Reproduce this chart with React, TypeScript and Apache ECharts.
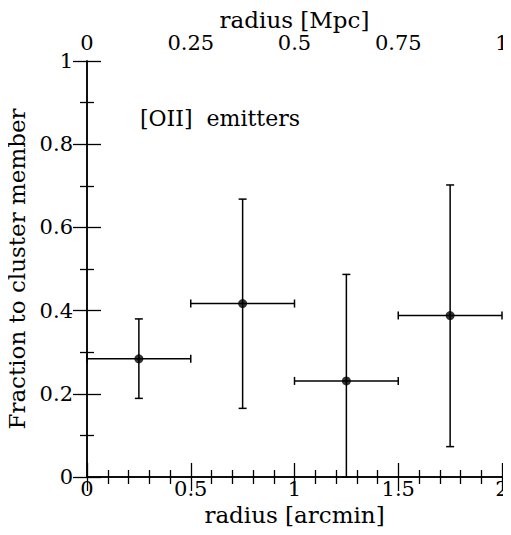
import React, { useEffect, useRef } from "react";
import * as echarts from "echarts";

const radiusArcmin = [0.25, 0.75, 1.25, 1.75];
const radiusLow = [0.0, 0.5, 1.0, 1.5];
const radiusHigh = [0.5, 1.0, 1.5, 2.0];
const fraction = [0.284, 0.417, 0.231, 0.388];
const fractionLow = [0.189, 0.165, 0.0, 0.073];
const fractionHigh = [0.38, 0.668, 0.487, 0.702];
const annotation = "[OII]  emitters";

const FONT = "DejaVu Serif";

export default function App() {
  const ref = useRef<HTMLDivElement>(null);
  useEffect(() => {
    if (!ref.current) return;
    const chart = echarts.init(ref.current, null, { renderer: "svg" });
    const errData = radiusArcmin.map((x, i) => [
      x,
      fraction[i],
      radiusLow[i],
      radiusHigh[i],
      fractionLow[i],
      fractionHigh[i],
    ]);
    const axisLine = { show: true, lineStyle: { color: "#000", width: 1.5 } };
    const tickStyle = { color: "#000", width: 1.3 };
    const labelStyle = { color: "#000", fontFamily: FONT, fontSize: 21 };
    const nameStyle = { color: "#000", fontFamily: FONT, fontSize: 23 };
    chart.setOption({
      animation: false,
      backgroundColor: "#fff",
      grid: {
        left: 87,
        right: 9,
        top: 61,
        bottom: 58,
        containLabel: false,
        outerBoundsMode: "none",
      },
      xAxis: [
        {
          type: "value",
          position: "bottom",
          min: 0,
          max: 2,
          interval: 0.5,
          name: "radius [arcmin]",
          nameLocation: "middle",
          nameGap: 26,
          nameMoveOverlap: false,
          nameTextStyle: nameStyle,
          axisLine,
          axisTick: { show: true, inside: true, length: 14, lineStyle: tickStyle },
          minorTick: { show: true, splitNumber: 5, length: 7, lineStyle: tickStyle },
          axisLabel: { ...labelStyle, margin: 1 },
          splitLine: { show: false },
        },
        {
          type: "value",
          position: "top",
          min: 0,
          max: 1,
          interval: 0.25,
          name: "radius [Mpc]",
          nameLocation: "middle",
          nameGap: 30,
          nameMoveOverlap: false,
          nameTextStyle: nameStyle,
          axisLine,
          axisTick: { show: true, inside: true, length: 14, lineStyle: tickStyle },
          minorTick: { show: true, splitNumber: 5, length: 7, lineStyle: tickStyle },
          axisLabel: { ...labelStyle, margin: 8 },
          splitLine: { show: false },
        },
      ],
      yAxis: [
        {
          type: "value",
          position: "left",
          min: 0,
          max: 1,
          interval: 0.2,
          name: "Fraction to cluster member",
          nameLocation: "middle",
          nameGap: 59,
          nameMoveOverlap: false,
          nameTextStyle: nameStyle,
          axisLine,
          axisTick: { show: true, inside: true, length: 14, lineStyle: tickStyle },
          minorTick: { show: true, splitNumber: 2, length: 7, lineStyle: tickStyle },
          axisLabel: { ...labelStyle, margin: 14 },
          splitLine: { show: false },
        },
        {
          type: "value",
          position: "right",
          min: 0,
          max: 1,
          interval: 0.2,
          axisLine,
          axisTick: { show: true, inside: true, length: 14, lineStyle: tickStyle },
          minorTick: { show: true, splitNumber: 2, length: 7, lineStyle: tickStyle },
          axisLabel: { show: false },
          splitLine: { show: false },
        },
      ],
      series: [
        {
          type: "custom",
          xAxisIndex: 0,
          yAxisIndex: 0,
          data: errData,
          clip: false,
          renderItem: (params: any, api: any) => {
            const x = api.value(0);
            const y = api.value(1);
            const c = api.coord([x, y]);
            const l = api.coord([api.value(2), y]);
            const r = api.coord([api.value(3), y]);
            const lo = api.coord([x, api.value(4)]);
            const hi = api.coord([x, api.value(5)]);
            const st = { stroke: "#000", lineWidth: 1.5 };
            const cap = 4;
            return {
              type: "group",
              children: [
                { type: "line", shape: { x1: l[0], y1: c[1], x2: r[0], y2: c[1] }, style: st },
                { type: "line", shape: { x1: l[0], y1: c[1] - cap, x2: l[0], y2: c[1] + cap }, style: st },
                { type: "line", shape: { x1: r[0], y1: c[1] - cap, x2: r[0], y2: c[1] + cap }, style: st },
                { type: "line", shape: { x1: c[0], y1: lo[1], x2: c[0], y2: hi[1] }, style: st },
                { type: "line", shape: { x1: c[0] - cap, y1: lo[1], x2: c[0] + cap, y2: lo[1] }, style: st },
                { type: "line", shape: { x1: c[0] - cap, y1: hi[1], x2: c[0] + cap, y2: hi[1] }, style: st },
              ],
            };
          },
          z: 2,
        },
        {
          type: "scatter",
          xAxisIndex: 0,
          yAxisIndex: 0,
          data: radiusArcmin.map((x, i) => [x, fraction[i]]),
          symbol: "circle",
          symbolSize: 9,
          itemStyle: { color: "#000" },
          z: 3,
        },
      ],
      graphic: [
        {
          type: "text",
          x: 140,
          y: 118,
          style: {
            text: annotation,
            fill: "#000",
            font: `22px "${FONT}"`,
            verticalAlign: "middle",
          },
        },
      ],
    });
    return () => chart.dispose();
  }, []);
  return <div ref={ref} style={{ width: 511, height: 535, margin: -8 }} />;
}
